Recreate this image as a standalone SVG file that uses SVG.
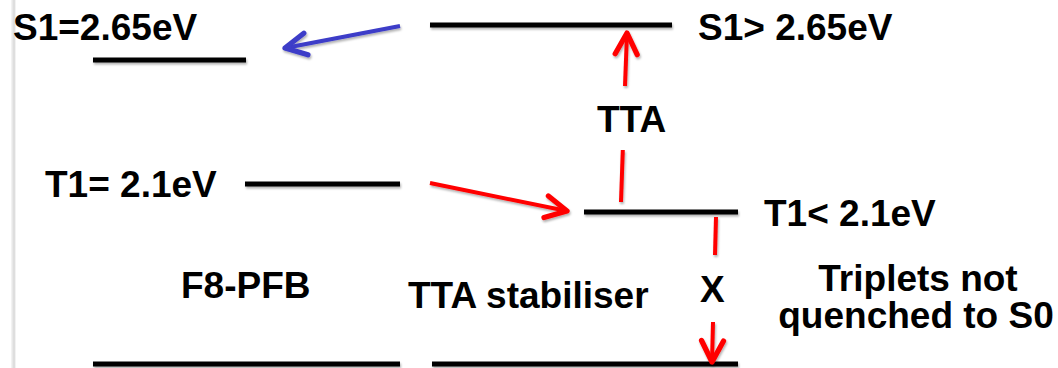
<svg xmlns="http://www.w3.org/2000/svg" width="1058" height="368" viewBox="0 0 1058 368">
  <style>
    .lvl { stroke: #000; stroke-width: 5; fill: none; filter: url(#shadow); }
    .lbl { font-family: "Liberation Sans", Arial, sans-serif; font-weight: bold; font-size: 37px; fill: #000; }
    .red { stroke: #ff0000; stroke-width: 4; fill: none; filter: url(#shadow); }
    .blue { stroke: #3c3cc8; stroke-width: 4; fill: none; filter: url(#shadow); }
  </style>
  <defs>
    <filter id="shadow" filterUnits="userSpaceOnUse" x="0" y="0" width="1058" height="368">
      <feDropShadow dx="1" dy="2" stdDeviation="1.2" flood-color="#000" flood-opacity="0.3"/>
    </filter>
    <marker id="headRed" viewBox="0 0 12 12" refX="10" refY="6" markerWidth="7.5" markerHeight="7.5" orient="auto" markerUnits="strokeWidth">
      <path d="M1.5,1.6 L10,6 L1.5,10.4" fill="none" stroke="#ff0000" stroke-width="2.1" stroke-linecap="round" stroke-linejoin="round"/>
    </marker>
    <marker id="headBlue" viewBox="0 0 12 12" refX="10" refY="6" markerWidth="7.5" markerHeight="7.5" orient="auto" markerUnits="strokeWidth">
      <path d="M1.5,1.6 L10,6 L1.5,10.4" fill="none" stroke="#3c3cc8" stroke-width="2.1" stroke-linecap="round" stroke-linejoin="round"/>
    </marker>
  </defs>

  <rect width="1058" height="368" fill="#fff"/>
  <!-- slide edge -->
  <rect x="11" y="0" width="5" height="368" fill="#f2f2f2"/>
  <rect x="12.5" y="0" width="2.5" height="368" fill="#dedede"/>

  <!-- F8-PFB singlet level -->
  <g id="s1-host">
    <text class="lbl" x="13" y="40">S1=2.65eV</text>
    <line class="lvl" x1="93" y1="60" x2="246" y2="60"/>
  </g>

  <!-- stabiliser singlet level -->
  <g id="s1-stab">
    <line class="lvl" x1="430" y1="25" x2="672" y2="25"/>
    <text class="lbl" x="698" y="40">S1&gt; 2.65eV</text>
  </g>

  <!-- F8-PFB triplet level -->
  <g id="t1-host">
    <text class="lbl" x="45" y="197">T1= 2.1eV</text>
    <line class="lvl" x1="245" y1="184" x2="400" y2="184"/>
  </g>

  <!-- stabiliser triplet level -->
  <g id="t1-stab">
    <line class="lvl" x1="584" y1="212" x2="738" y2="212"/>
    <text class="lbl" x="764" y="226">T1&lt; 2.1eV</text>
  </g>

  <!-- ground states -->
  <g id="s0-host">
    <text class="lbl" x="181" y="298">F8-PFB</text>
    <line class="lvl" x1="93" y1="364" x2="400" y2="364"/>
  </g>
  <g id="s0-stab">
    <text class="lbl" x="408" y="308">TTA stabiliser</text>
    <line class="lvl" x1="432" y1="364" x2="738" y2="364"/>
  </g>

  <g id="note">
    <text class="lbl" x="918" y="291" text-anchor="middle">Triplets not</text>
    <text class="lbl" x="916" y="328" text-anchor="middle">quenched to S0</text>
  </g>

  <!-- transitions -->
  <g id="connectors">
    <line class="blue" x1="400" y1="26" x2="285" y2="48" marker-end="url(#headBlue)"/>
    <line class="red" x1="430" y1="183" x2="567" y2="211" marker-end="url(#headRed)"/>
    <line class="red" x1="621" y1="202" x2="622.8" y2="150"/>
    <line class="red" x1="625" y1="86" x2="627" y2="33" marker-end="url(#headRed)"/>
    <text class="lbl" x="597" y="132">TTA</text>
    <line class="red" x1="716" y1="217" x2="715" y2="255"/>
    <line class="red" x1="713" y1="322" x2="712" y2="362" marker-end="url(#headRed)"/>
    <text class="lbl" x="700" y="302">X</text>
  </g>
</svg>
